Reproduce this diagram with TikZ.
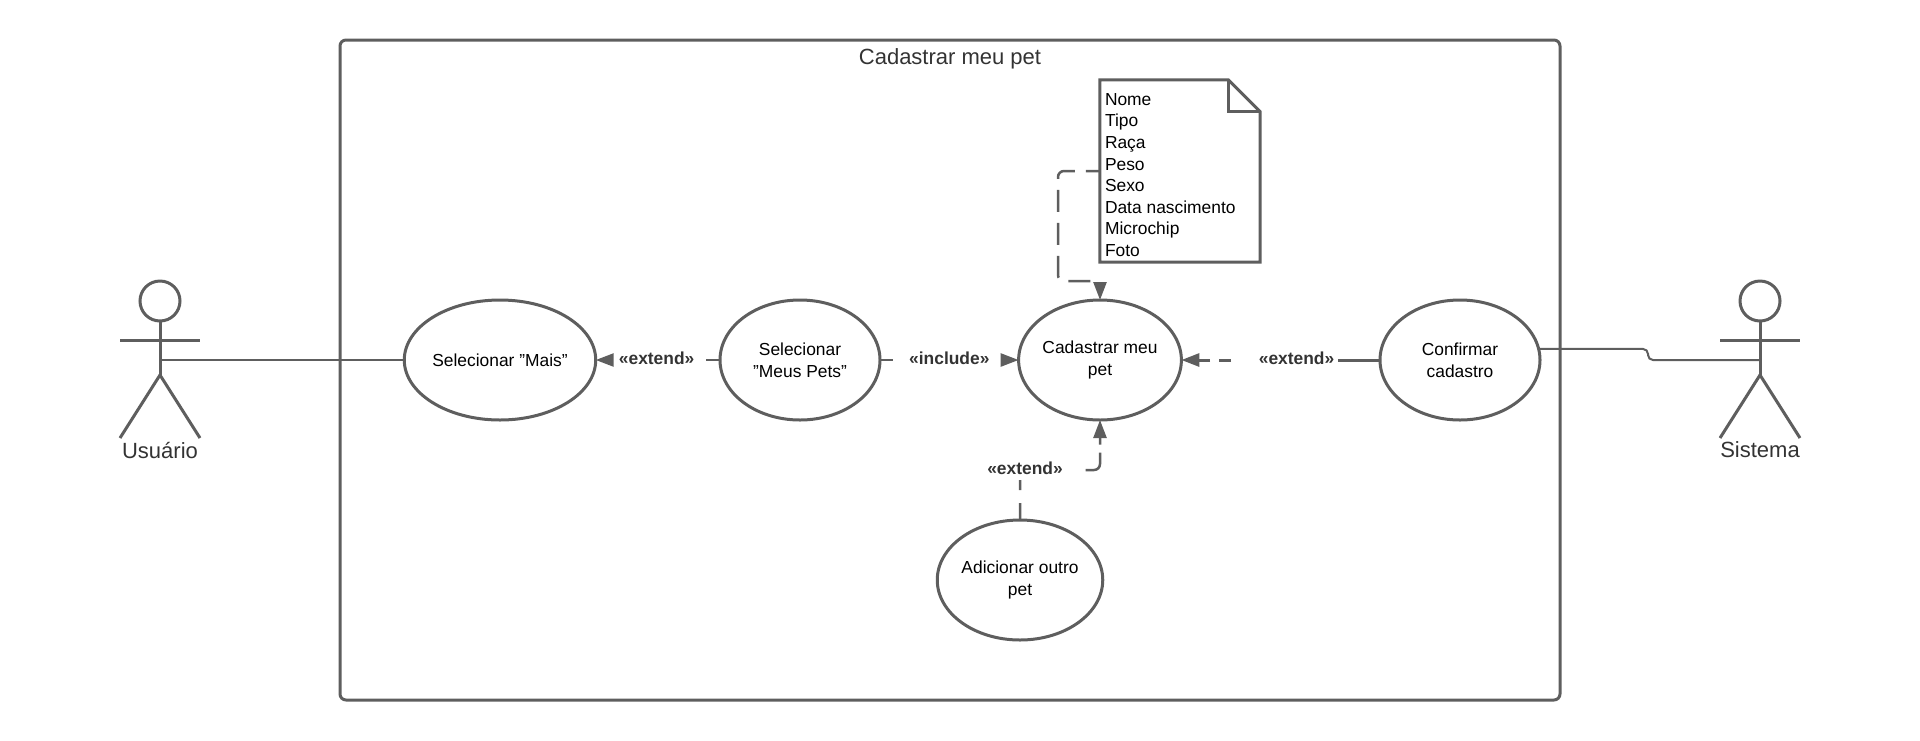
\documentclass[tikz,border=0pt]{standalone}
\usepackage{fontspec}
\setmainfont{Liberation Sans}
\usepackage{xcolor}
\usetikzlibrary{arrows.meta,calc,positioning,shapes.geometric}
\definecolor{linha}{HTML}{5E5E5E}
\definecolor{texto}{HTML}{333333}
\tikzset{
  casouso/.style={draw=linha,fill=white,ellipse,line width=3pt,minimum width=160pt,minimum height=120pt,inner sep=0pt,outer sep=0pt,align=center,font=\fontsize{17.4}{21.6}\selectfont},
  rotulo/.style={text=texto,font=\fontsize{17.4}{21}\selectfont\bfseries,inner sep=0pt},
  titulo/.style={text=texto,font=\fontsize{22}{26}\selectfont,inner sep=0pt},
  ligacao/.style={draw=linha,line width=2pt},
  depende/.style={draw=linha,line width=2.5pt,-{Triangle[length=18pt,width=13pt]},rounded corners=6pt},
  actor/.pic={
    \draw[draw=linha,line width=3pt] (0,0) circle[radius=20];
    \draw[draw=linha,line width=3pt] (0,20) -- (0,74);
    \draw[draw=linha,line width=3pt] (-40,39) -- (40,39);
    \draw[draw=linha,line width=3pt] (-40,137) -- (0,74) -- (40,137);
  }
}
\begin{document}
\begin{tikzpicture}[x=1pt,y=-1pt]
  \useasboundingbox (0,0) rectangle (1920,740);
  \node[draw=linha,line width=3pt,rounded corners=6pt,minimum width=1220pt,minimum height=660pt,inner sep=0pt] (sistemaborda) at (950,370) {};
  \node[titulo] (nomecaso) at (950,59) {Cadastrar meu pet};

  % atores
  \pic at (160,301) {actor};
  \pic at (1760,301) {actor};
  \node[titulo] (usuario) at (160,450) {Usuário};
  \node[titulo] (sistema) at (1760,450) {Sistema};
  \coordinate (usuarioMeio) at (160,360);
  \coordinate (sistemaMeio) at (1760,360);
  \coordinate (sistemaQuebra) at (1648,360);

  % casos de uso
  \node[casouso] (selMais) at (500,360) {Selecionar "Mais"};
  \node[casouso] (selPets) at (800,360) {Selecionar\\"Meus Pets"};
  \node[casouso] (cadPet) at (1100,360) {Cadastrar meu\\pet};
  \node[casouso] (confirma) at (1460,360) {Confirmar\\cadastro};
  \node[casouso] (adiciona) at (1020,580) {Adicionar outro\\pet};

  % nota
  \node[minimum width=160pt,minimum height=182pt,inner sep=0pt] (nota) at (1180,171) {};
  \draw[draw=linha,line width=3pt,line join=miter]
    (nota.north west) -- ($(nota.north east)+(-32,0)$) -- ($(nota.north east)+(0,32)$)
    -- (nota.south east) -- (nota.south west) -- cycle;
  \draw[draw=linha,line width=3pt]
    ($(nota.north east)+(-32,0)$) -- ($(nota.north east)+(-32,32)$) -- ($(nota.north east)+(0,32)$);
  \node[anchor=west,align=left,inner sep=0pt,font=\fontsize{17.4}{21.6}\selectfont] (notatexto) at ($(nota.west)+(5,4)$)
    {Nome\\Tipo\\Raça\\Peso\\Sexo\\Data nascimento\\Microchip\\Foto};

  % ligacoes
  \draw[ligacao] (usuarioMeio) -- (selMais);
  \draw[ligacao,rounded corners=5pt] (confirma.8) -| (sistemaQuebra) -- (sistemaMeio);
  \draw[depende,dash pattern=on 14pt off 124pt on 30pt] (selPets) -- node[rotulo,pos=0.51,yshift=2pt] (rotMais) {<<extend>>} (selMais);
  \draw[depende,dash pattern=on 13pt off 109pt on 30pt] (selPets) -- node[rotulo,pos=0.5,yshift=2pt] (rotInclui) {<<include>>} (cadPet);
  \draw[depende,line width=3pt,dash pattern=on 42pt off 107pt on 12pt off 9pt on 30pt] (confirma) -- node[rotulo,pos=0.42,yshift=2pt] (rotConfirma) {<<extend>>} (cadPet);
  \draw[depende,dash pattern=on 17pt off 13pt on 10pt off 73pt on 29pt off 8pt on 40pt] (adiciona.north) |- (1100,470) node[rotulo,pos=0.5,xshift=5pt,yshift=2pt] (rotAdiciona) {<<extend>>} -- (cadPet.south);
  \draw[depende,dash pattern=on 22pt off 11pt,dash phase=8pt] (nota.west) -| (1058,281) -| (cadPet.north);
\end{tikzpicture}
\end{document}
